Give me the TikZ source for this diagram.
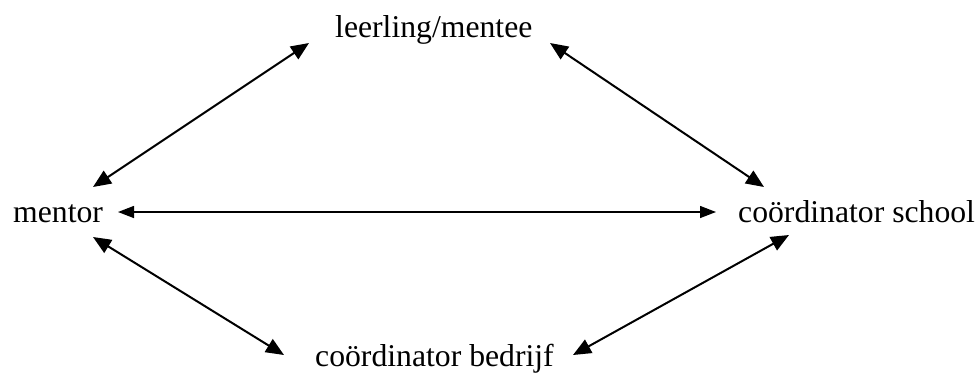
\documentclass[tikz,border=0pt]{standalone}
\usepackage{fontspec}
\setmainfont{Liberation Serif}
\usetikzlibrary{arrows.meta}
\begin{document}
\begin{tikzpicture}[x=1pt,y=-1pt,
  role/.style={inner sep=0pt,anchor=base,font=\fontsize{31.7}{38}\selectfont},
  link/.style={line width=2pt,{Triangle[length=18pt,width=15pt]}-{Triangle[length=18pt,width=15pt]}},
  flat/.style={line width=1.4pt,{Triangle[length=16pt,width=12pt]}-{Triangle[length=16pt,width=12pt]}}]
  \useasboundingbox (0,0) rectangle (978,373);

  % the four parties
  \node[role,anchor=base west] (mentee) at (335,37) {leerling/mentee};
  \node[role,anchor=base west] (mentor) at (13,222) {mentor};
  \node[role,anchor=base west] (school) at (738,222) {coördinator school};
  \node[role,anchor=base west] (bedrijf) at (315,366) {coördinator bedrijf};

  % arrow ends beside each party
  \coordinate (mentee-l) at (309,43);
  \coordinate (mentee-r) at (550,43);
  \coordinate (mentor-u) at (93,187);
  \coordinate (mentor-r) at (118,212);
  \coordinate (mentor-d) at (93,237);
  \coordinate (school-u) at (764,187);
  \coordinate (school-l) at (716,212);
  \coordinate (school-d) at (789,235);
  \coordinate (bedrijf-l) at (284,355);
  \coordinate (bedrijf-r) at (573,355);

  % two-way relations
  \draw[link] (mentor-u) -- (mentee-l);
  \draw[link] (mentee-r) -- (school-u);
  \draw[flat] (mentor-r) -- (school-l);
  \draw[link] (mentor-d) -- (bedrijf-l);
  \draw[link] (bedrijf-r) -- (school-d);
\end{tikzpicture}
\end{document}
